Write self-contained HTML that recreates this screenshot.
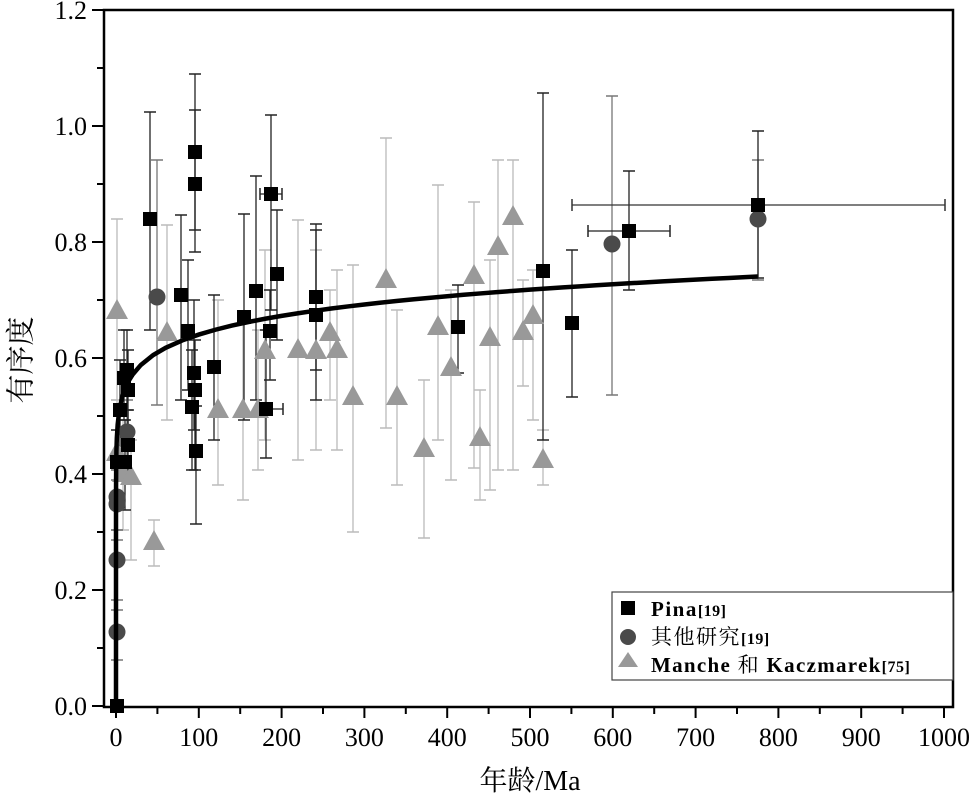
<!DOCTYPE html>
<html><head><meta charset="utf-8"><style>
html,body{margin:0;padding:0;background:#fff;}
svg{display:block;}
text{font-family:"Liberation Serif","Noto Serif CJK SC",serif;}
</style></head><body>
<svg id="s" width="969" height="808" xmlns="http://www.w3.org/2000/svg">
<rect x="0" y="0" width="969" height="808" fill="#fff"/>
<g id="bars"></g>
<g id="pts"></g>
<path id="curve" fill="none" stroke="#000" stroke-width="4.5"/>
<rect x="104" y="10" width="849" height="697" fill="none" stroke="#000" stroke-width="2.5"/>
<g id="ticks" stroke="#000" stroke-width="2"></g>
<g id="labels" font-size="26" fill="#000"></g>
<text x="24" y="360" font-size="29" transform="rotate(-90 24 360)" text-anchor="middle" dominant-baseline="middle" font-family="Liberation Serif,'Noto Serif CJK SC',serif">有序度</text>
<text x="530" y="790" font-size="28" text-anchor="middle" font-family="Liberation Serif,'Noto Serif CJK SC',serif">年龄/Ma</text>
<rect x="612" y="592" width="341" height="88" fill="#fff" stroke="#444" stroke-width="1.2"/>
<rect x="621" y="601" width="14" height="14" fill="#000"/>
<circle cx="628" cy="637" r="8" fill="#4a4a4a"/>
<polygon points="618,667 638,667 628,652" fill="#999"/>
<text x="651" y="616" font-size="21" font-weight="bold" letter-spacing="1.5">Pina<tspan font-size="16" letter-spacing="0.5">[19]</tspan></text>
<text x="651" y="644" font-size="21" letter-spacing="1.5" font-family="'Noto Serif CJK SC',serif">其他研究<tspan font-size="16" letter-spacing="0.5" font-weight="bold" font-family="Liberation Serif,serif">[19]</tspan></text>
<text x="651" y="672" font-size="21" font-weight="bold" letter-spacing="1.3">Manche <tspan font-weight="normal" font-family="'Noto Serif CJK SC',serif">和</tspan> Kaczmarek<tspan font-size="16" letter-spacing="0.5">[75]</tspan></text>
</svg>
<script>
var NS="http://www.w3.org/2000/svg";
function el(p,t,a){var e=document.createElementNS(NS,t);for(var k in a)e.setAttribute(k,a[k]);p.appendChild(e);return e;}
var bars=document.getElementById('bars'),pts=document.getElementById('pts'),tk=document.getElementById('ticks'),lb=document.getElementById('labels');
function X(v){return 116+0.828*v;}function Y(v){return 706-580*v;}
for(var v=0;v<=1000;v+=50){var x=X(v);el(tk,'line',{x1:x,y1:707,x2:x,y2:v%100==0?718:714});if(v%100==0){var t=el(lb,'text',{x:x,y:746,'text-anchor':'middle'});t.textContent=v;}}
for(var i=0;i<=12;i++){var y=Y(i/10);el(tk,'line',{x1:104,y1:y,x2:i%2==0?92:97,y2:y});if(i%2==0){var t=el(lb,'text',{x:87,y:y+9,'text-anchor':'end'});t.textContent=(i/10).toFixed(1);}}
function eb(x,y1,y2,c,w){el(bars,'line',{x1:x,y1:y1,x2:x,y2:y2,stroke:c,'stroke-width':w||1.3});el(bars,'line',{x1:x-6,y1:y1,x2:x+6,y2:y1,stroke:c,'stroke-width':1.5});el(bars,'line',{x1:x-6,y1:y2,x2:x+6,y2:y2,stroke:c,'stroke-width':1.5});}
function hb(y,x1,x2,c){el(bars,'line',{x1:x1,y1:y,x2:x2,y2:y,stroke:c,'stroke-width':1.3});el(bars,'line',{x1:x1,y1:y-6,x2:x1,y2:y+6,stroke:c,'stroke-width':1.5});el(bars,'line',{x1:x2,y1:y-6,x2:x2,y2:y+6,stroke:c,'stroke-width':1.5});}
var tri=[[117,310,219,400],[117,452,400,500],[123,473,420,530],[131,476,440,560],[154,541,520,566],[167,332,225,420],[218,409,300,485],[243,409,320,500],[265,350,250,440],[258,409,330,470],[298,349,220,460],[316,350,250,450],[330,332,290,400],[337,349,270,450],[353,396,265,532],[386,279,138,428],[397,396,310,485],[424,448,380,538],[438,326,185,440],[451,367,290,480],[474,275,202,468],[480,437,390,500],[490,337,260,490],[498,246,160,470],[513,216,160,470],[523,331,280,386],[533,315,270,420],[543,459,430,485]];
var cir=[[157,297,160,405],[612,244,96,395],[758,219,160,280],[117,497,470,530],[117,504,480,540],[117,560,530,600],[117,632,610,660],[127,432,400,470]];
var sq=[[117,706],[117,462,430,500],[120,410,360,450],[124,378,330,420],[127,370,330,410],[128,390,350,440],[128,445,410,480],[125,462,420,510],[150,219,112,330],[181,295,215,400],[188,331,260,390],[192,407,350,470],[194,373,300,430],[195,390,340,470],[195,184,110,252],[195,152,74,230],[196,451,406,524],[214,367,295,440],[244,317,214,420],[256,291,176,400],[266,409,330,458],[270,331,290,380],[271,194,115,310],[277,274,210,340],[316,297,224,370],[316,315,230,400],[458,327,285,373],[543,271,93,440],[572,323,250,397],[629,231,171,290],[758,205,131,278]];
tri.forEach(function(p){eb(p[0],p[2],p[3],'#bbb',1.3);});
cir.forEach(function(p){eb(p[0],p[2],p[3],'#777',1.3);});
sq.forEach(function(p){if(p[2])eb(p[0],p[2],p[3],'#222',1.3);});
hb(409,256,283,'#222');hb(194,260,282,'#222');hb(231,588,670,'#222');hb(205,572,945,'#333');
tri.forEach(function(p){var x=p[0],y=p[1];el(pts,'polygon',{points:(x-11)+','+(y+9)+' '+(x+11)+','+(y+9)+' '+x+','+(y-11),fill:'#999'});});
cir.forEach(function(p){el(pts,'circle',{cx:p[0],cy:p[1],r:8.5,fill:'#4a4a4a'});});
sq.forEach(function(p){el(pts,'rect',{x:p[0]-7,y:p[1]-7,width:14,height:14,fill:'#000'});});
var d='M'+X(0)+','+Y(0);
var vs=[1e-12,1e-9,1e-7,1e-6,1e-5,1e-4,1e-3,0.01,0.05,0.2,0.5,1,2,4,7,10,15,20,30,45,60,80,100];
for(var v=120;v<=775;v+=20)vs.push(v);vs.push(775);
vs.forEach(function(v){d+=' L'+X(v).toFixed(2)+','+Y(0.462*Math.pow(v,0.0709)).toFixed(2);});
document.getElementById('curve').setAttribute('d',d);
</script>
</body></html>
